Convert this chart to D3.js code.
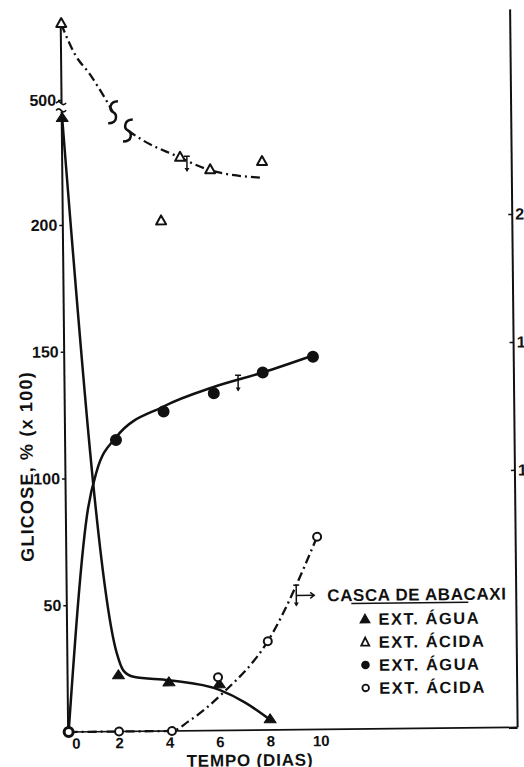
<!DOCTYPE html>
<html lang="pt">
<head>
<meta charset="UTF-8">
<title>Glicose - casca de abacaxi</title>
<script src="https://d3js.org/d3.v7.min.js"></script>
<style>
  body { margin: 0; background: #fff; }
  svg text { font-family: "Liberation Sans", Arial, sans-serif; font-weight: bold; fill: #111; }
  .tick text { font-size: 16px; }
  .xaxis .tick text { font-size: 15px; }
  .tick line { stroke: #111; stroke-width: 1.5; }
  .frame { stroke: #111; fill: none; }
</style>
</head>
<body>
<svg id="chart" width="524" height="767"></svg>
<script>
// eixos
const xTicks = [0, 2, 4, 6, 8, 10];
const yTicksLow = [50, 100, 150, 200];
const yTicksUp = [500];
const rightTicks = [1.0, 1.5, 2.0];
const rightLabels = ["1,0", "1,5", "2,0"];

// ▲ EXT. ÁGUA  [dia, glicose]
const aguaTri = [[0, 242], [2, 22], [4, 19], [6, 18], [8, 4]];
const aguaTriCurve = [[0, 242], [1.94, 31], [2.2, 24], [2.6, 21.5], [4, 20], [6, 16], [7, 11], [8, 4]];

// ● EXT. ÁGUA
const aguaCirc = [[0, 0], [2, 115], [3.9, 126], [5.9, 133], [7.85, 141], [9.85, 147]];
const aguaCircCurve = [[0, 0], [0.86, 88], [1.23, 103], [2, 116], [3.9, 128], [5.9, 135.5], [7.85, 141], [9.85, 147.5]];

// ○ EXT. ÁCIDA
const acidaCirc = [[0, 0], [2, 0], [4.1, 0], [5.95, 21], [7.94, 35], [9.94, 76]];
const acidaCircCurve = [[0, 0], [4.1, 0], [4.76, 3.7], [6.1, 14.4], [7.94, 35], [9.94, 76]];

// △ EXT. ÁCIDA (eixo interrompido: parte acima de 500 e parte de baixo)
const acidaTriUp = [[0, 530]];
const acidaTriLow = [[3.88, 201], [4.66, 226], [5.85, 221], [7.91, 224]];
const acidaTriCurveUp = [[0, 530], [0.53, 518], [1.12, 510], [1.71, 500.5], [2.02, 495]];
const acidaTriCurveLow = [[2.6, 237], [3.2, 233], [4.46, 227], [5.84, 221], [7.91, 217.8]];

// barras de erro [dia, de, até]
const errBars = [[4.93, 226.6, 220.8], [6.87, 140, 134], [9.09, 57, 49]];
const errArrows = [[9.09, 52.9, 9.8]];

const legendTitle = "CASCA DE ABACAXI";
const legendLabels = ["EXT. ÁGUA", "EXT. ÁCIDA", "EXT. ÁGUA", "EXT. ÁCIDA"];
const legendSymbols = ["tri", "triOpen", "circ", "circOpen"];

const svg = d3.select("#chart");
// a figura digitalizada está levemente girada
const g = svg.append("g").attr("transform", "rotate(-0.6, 262, 383)");

const x = d3.scaleLinear([0, 10], [65, 317]);
const yLow = d3.scaleLinear([0, 245], [730, 730 - 245 * 2.5355]);
const yUp = d3.scaleLinear([499, 532], [98 + 2.5355, 98 - 32 * 2.5355]);
const yRight = d3.scaleLinear([1, 2], [472.5, 216.6]);

const leftX = 64, rightX = 514, bottomY = yLow(0);

// moldura
g.append("line").attr("class", "frame").attr("x1", leftX).attr("x2", rightX)
  .attr("y1", bottomY).attr("y2", bottomY).attr("stroke-width", 1.6);
g.append("line").attr("class", "frame").attr("x1", rightX).attr("x2", rightX)
  .attr("y1", 12).attr("y2", bottomY).attr("stroke-width", 2);

// eixo esquerdo (duas partes)
const axLow = g.append("g").attr("transform", `translate(${leftX},0)`)
  .call(d3.axisLeft(yLow).tickValues(yTicksLow).tickSizeInner(3).tickSizeOuter(0).tickPadding(2));
const axUp = g.append("g").attr("transform", `translate(${leftX},0)`)
  .call(d3.axisLeft(yUp).tickValues(yTicksUp).tickSizeInner(3).tickSizeOuter(0).tickPadding(2));
[axLow, axUp].forEach(a => a.select(".domain").attr("stroke", "#111").attr("stroke-width", 2));

// marca de interrupção no eixo
[yUp(499) + 0.5, yLow(245) - 0.5].forEach(yy => {
  g.append("path").attr("class", "frame").attr("stroke-width", 1.6)
    .attr("d", `M${leftX - 5},${yy} q2.5,-3 5,0 t5,0`);
});

// eixo inferior
const axX = g.append("g").attr("class", "xaxis").attr("transform", `translate(0,${bottomY})`)
  .call(d3.axisBottom(x).tickValues(xTicks).tickSize(0).tickPadding(6));
axX.select(".domain").remove();
axX.selectAll(".tick text").filter(d => d === 0).attr("dx", 7);

// eixo direito
const axR = g.append("g").attr("transform", `translate(${rightX},0)`)
  .call(d3.axisRight(yRight).tickValues(rightTicks).tickSizeInner(-4).tickSizeOuter(0).tickPadding(3)
    .tickFormat((d, i) => rightLabels[i]));
axR.select(".domain").remove();

// títulos
g.append("text").attr("transform", "translate(32,464) rotate(-90)")
  .attr("text-anchor", "middle").attr("font-size", 18).attr("letter-spacing", 1.2)
  .text("GLICOSE, % (x 100)");
g.append("text").attr("x", 246).attr("y", 766)
  .attr("text-anchor", "middle").attr("font-size", 17).attr("letter-spacing", 0.8)
  .text("TEMPO (DIAS)");

// curvas
const lineLow = d3.line().x(d => x(d[0])).y(d => yLow(d[1])).curve(d3.curveMonotoneX);
const lineUp = d3.line().x(d => x(d[0])).y(d => yUp(d[1])).curve(d3.curveMonotoneX);
const dashDot = "9,4,2,4";

g.append("path").attr("d", lineLow(aguaTriCurve)).attr("fill", "none").attr("stroke", "#111").attr("stroke-width", 2.5);
g.append("path").attr("d", lineLow(aguaCircCurve)).attr("fill", "none").attr("stroke", "#111").attr("stroke-width", 2.5);
g.append("path").attr("d", lineLow(acidaCircCurve)).attr("fill", "none").attr("stroke", "#111")
  .attr("stroke-width", 2.3).attr("stroke-dasharray", dashDot);
g.append("path").attr("d", lineUp(acidaTriCurveUp)).attr("fill", "none").attr("stroke", "#111")
  .attr("stroke-width", 2.3).attr("stroke-dasharray", dashDot);
g.append("path").attr("d", lineLow(acidaTriCurveLow)).attr("fill", "none").attr("stroke", "#111")
  .attr("stroke-width", 2.3).attr("stroke-dasharray", dashDot);

// marcas de interrupção na curva
const sMark = "M5,-11 C-4,-11 -4,-2 0,0 S5,11 -5,11";
const upEnd = acidaTriCurveUp[acidaTriCurveUp.length - 1], lowStart = acidaTriCurveLow[0];
[[x(upEnd[0]), yUp(upEnd[1])], [x(lowStart[0]), yLow(lowStart[1])]].forEach(p => {
  g.append("path").attr("transform", `translate(${p[0]},${p[1]})`)
    .attr("d", sMark).attr("fill", "none").attr("stroke", "#111").attr("stroke-width", 2.5);
});

// barras de erro
errBars.forEach(e => {
  const xx = x(e[0]);
  g.append("line").attr("x1", xx).attr("x2", xx).attr("y1", yLow(e[1])).attr("y2", yLow(e[2]))
    .attr("stroke", "#111").attr("stroke-width", 1.5);
  g.append("line").attr("x1", xx - 3).attr("x2", xx + 3).attr("y1", yLow(e[1])).attr("y2", yLow(e[1]))
    .attr("stroke", "#111").attr("stroke-width", 1.5);
  g.append("path").attr("transform", `translate(${xx},${yLow(e[2])})`)
    .attr("d", "M-2.5,-3 L2.5,-3 L0,1 Z").attr("fill", "#111");
});
errArrows.forEach(e => {
  const x1 = x(e[0]), x2 = x(e[2]), yy = yLow(e[1]);
  g.append("line").attr("x1", x1).attr("x2", x2).attr("y1", yy).attr("y2", yy)
    .attr("stroke", "#111").attr("stroke-width", 1.5);
  g.append("path").attr("d", `M${x2 - 4},${yy - 3} L${x2},${yy} L${x2 - 4},${yy + 3}`)
    .attr("fill", "none").attr("stroke", "#111").attr("stroke-width", 1.5);
});

// marcadores
const tri = (w, h) => `M0,${-h * 2 / 3} L${w / 2},${h / 3} L${-w / 2},${h / 3} Z`;

function drawMarks(data, ys, kind, s) {
  const sel = g.selectAll(null).data(data).enter();
  if (kind === "tri" || kind === "triOpen") {
    sel.append("path")
      .attr("transform", d => `translate(${x(d[0])},${ys(d[1])})`)
      .attr("d", kind === "tri" ? tri(12 * s, 9 * s) : tri(10 * s, 9 * s))
      .attr("fill", kind === "tri" ? "#111" : "#fff")
      .attr("stroke", "#111").attr("stroke-width", kind === "tri" ? 1 : 2)
      .attr("stroke-linejoin", "round");
  } else {
    sel.append("circle")
      .attr("cx", d => x(d[0])).attr("cy", d => ys(d[1]))
      .attr("r", kind === "circ" ? 6 * s : 4 * s)
      .attr("fill", kind === "circ" ? "#111" : "#fff")
      .attr("stroke", "#111").attr("stroke-width", kind === "circ" ? 0 : 2);
  }
}
drawMarks(aguaCirc, yLow, "circ", 1);
drawMarks(aguaTri, yLow, "tri", 1);
drawMarks(acidaCirc, yLow, "circOpen", 1);
drawMarks(acidaTriLow, yLow, "triOpen", 1);
drawMarks(acidaTriUp, yUp, "triOpen", 1);

// legenda
const lg = g.append("g");
lg.append("text").attr("x", 325).attr("y", 602)
  .attr("font-size", 17).attr("letter-spacing", 0.6).text(legendTitle);
lg.append("line").attr("x1", 349).attr("x2", 466).attr("y1", 604.5).attr("y2", 604.5)
  .attr("stroke", "#111").attr("stroke-width", 1.5);

const rowY = d3.scaleLinear([0, 3], [620, 689]);
legendLabels.forEach((lab, i) => {
  const yy = rowY(i), kind = legendSymbols[i];
  if (kind === "tri" || kind === "triOpen") {
    lg.append("path").attr("transform", `translate(362.5,${yy + 1})`)
      .attr("d", kind === "tri" ? tri(10, 9) : tri(8, 8))
      .attr("fill", kind === "tri" ? "#111" : "#fff")
      .attr("stroke", "#111").attr("stroke-width", kind === "tri" ? 1 : 1.8);
  } else {
    lg.append("circle").attr("cx", 362.5).attr("cy", yy)
      .attr("r", kind === "circ" ? 4.3 : 3.3)
      .attr("fill", kind === "circ" ? "#111" : "#fff")
      .attr("stroke", "#111").attr("stroke-width", kind === "circ" ? 0 : 1.8);
  }
  lg.append("text").attr("x", 376).attr("y", yy + 6)
    .attr("font-size", 16.5).attr("letter-spacing", 1.5).text(lab);
});
</script>
</body>
</html>
